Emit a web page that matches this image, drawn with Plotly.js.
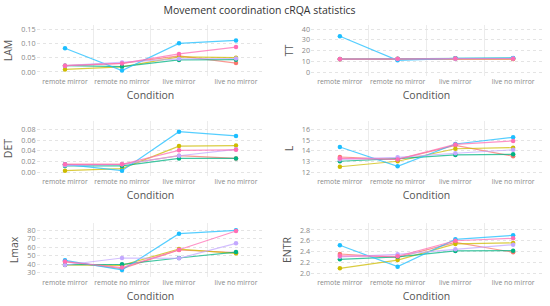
<!DOCTYPE html>
<html>
<head>
<meta charset="utf-8">
<script src="https://cdn.plot.ly/plotly-3.0.1.min.js"></script>
<style>html,body{margin:0;padding:0;background:#fff;}#chart{width:550px;height:306px;}</style>
</head>
<body>
<div id="chart"></div>
<script>
// ---- data ----
const conditions = ["remote mirror", "remote no mirror", "live mirror", "live no mirror"];
const seriesNames = ["Dyad 1", "Dyad 2", "Dyad 3", "Dyad 4", "Dyad 5", "Dyad 6"];
const seriesColors = ["#F8766D", "#CDBB00", "#00B383", "#1CBEFF", "#C3A8FF", "#FF6EB4"];

// each metric: one row per series (same order as seriesNames)
const LAM = [
  [0.022, 0.030, 0.056, 0.031],
  [0.009, 0.018, 0.053, 0.050],
  [0.022, 0.019, 0.042, 0.043],
  [0.083, 0.005, 0.100, 0.110],
  [0.022, 0.033, 0.046, 0.047],
  [0.022, 0.030, 0.063, 0.087]
];
const TT = [
  [12.0, 12.2, 12.4, 12.1],
  [11.9, 12.0, 12.6, 12.2],
  [12.1, 12.3, 12.9, 12.9],
  [33.4, 10.9, 12.8, 13.1],
  [12.0, 12.2, 12.3, 12.6],
  [12.1, 12.3, 12.6, 12.4]
];
const DET = [
  [0.015, 0.015, 0.031, 0.026],
  [0.003, 0.007, 0.049, 0.050],
  [0.012, 0.012, 0.026, 0.026],
  [0.015, 0.003, 0.076, 0.068],
  [0.013, 0.015, 0.031, 0.043],
  [0.015, 0.015, 0.041, 0.042]
];
const Lval = [
  [13.43, 13.21, 14.52, 13.50],
  [12.52, 13.03, 14.20, 14.30],
  [13.03, 13.27, 13.62, 13.68],
  [14.36, 12.56, 14.64, 15.27],
  [13.20, 13.40, 13.78, 14.10],
  [13.30, 13.20, 14.60, 14.93]
];
const Lmax = [
  [42.9, 34.7, 56.6, 53.4],
  [39.0, 38.6, 57.7, 52.7],
  [39.4, 39.8, 47.2, 54.2],
  [44.5, 33.2, 75.7, 79.6],
  [39.0, 47.2, 46.8, 64.4],
  [43.0, 36.0, 56.9, 78.8]
];
const ENTR = [
  [2.353, 2.290, 2.571, 2.385],
  [2.087, 2.240, 2.540, 2.560],
  [2.254, 2.300, 2.410, 2.415],
  [2.515, 2.118, 2.626, 2.700],
  [2.300, 2.347, 2.440, 2.527],
  [2.320, 2.310, 2.600, 2.645]
];

// ---- panels ----
const panels = [
  {name: "LAM",  data: LAM,  range: [-0.014, 0.164], dtick: 0.05, fmt: ".2f"},
  {name: "TT",   data: TT,   range: [-3.74, 43.9],   dtick: 10,   fmt: "d"},
  {name: "DET",  data: DET,  range: [-0.0069, 0.0959], dtick: 0.02, fmt: ".2f"},
  {name: "L",    data: Lval, range: [11.654, 16.79], dtick: 1,    fmt: "d"},
  {name: "Lmax", data: Lmax, range: [24.96, 88.2],   dtick: 10,   fmt: "d"},
  {name: "ENTR", data: ENTR, range: [1.9256, 2.93],  dtick: 0.2,  fmt: ".1f"}
];

const W = 550, H = 306;
const colX = [[36.5, 264.5], [311, 542]];
const rowY = [[25, 76], [121, 176], [223, 277]];

function rgba(hex, a) {
  const n = parseInt(hex.slice(1), 16);
  return "rgba(" + ((n >> 16) & 255) + "," + ((n >> 8) & 255) + "," + (n & 255) + "," + a + ")";
}

const traces = [];
const layout = {
  width: W, height: H,
  margin: {l: 0, r: 0, t: 0, b: 0},
  paper_bgcolor: "#ffffff",
  plot_bgcolor: "#ffffff",
  showlegend: false,
  font: {family: "Open Sans, sans-serif", color: "#444"},
  title: {
    text: "Movement coordination cRQA statistics",
    x: 0.472, xanchor: "center", y: 0.967, yanchor: "middle",
    font: {size: 10.5, color: "#333"}
  }
};

panels.forEach((p, i) => {
  const col = i % 2, row = Math.floor(i / 2);
  const k = i + 1;
  const xa = "xaxis" + (k === 1 ? "" : k), ya = "yaxis" + (k === 1 ? "" : k);
  const xr = "x" + (k === 1 ? "" : k), yr = "y" + (k === 1 ? "" : k);
  p.data.forEach((vals, s) => {
    traces.push({
      type: "scatter", mode: "lines+markers",
      x: conditions, y: vals, name: seriesNames[s],
      xaxis: xr, yaxis: yr,
      line: {color: rgba(seriesColors[s], 0.75), width: 1.2},
      marker: {color: seriesColors[s], size: 4.5},
      hoverinfo: "skip"
    });
  });
  layout[xa] = {
    domain: [colX[col][0] / W, colX[col][1] / W],
    anchor: yr,
    type: "category",
    categoryorder: "array", categoryarray: conditions,
    range: [-0.5, 3.5],
    tickson: "boundaries",
    tickangle: 0,
    ticks: "", showline: false, zeroline: false,
    showgrid: true, gridcolor: "#ececec", gridwidth: 1,
    tickfont: {size: 6.8, color: "#888"},
    title: {text: "Condition", font: {size: 10.5, color: "#555"}, standoff: 6},
    automargin: false
  };
  layout[ya] = {
    domain: [1 - rowY[row][1] / H, 1 - rowY[row][0] / H],
    anchor: xr,
    range: p.range,
    dtick: p.dtick, tick0: 0, tickformat: p.fmt,
    ticks: "", showline: false, zeroline: false,
    showgrid: true, gridcolor: "#e4e4e4", griddash: "dot", gridwidth: 1,
    tickfont: {size: 7.2, color: "#888"},
    title: {text: p.name, font: {size: 10.5, color: "#555"}, standoff: 6},
    automargin: false
  };
});

Plotly.newPlot("chart", traces, layout, {displayModeBar: false, staticPlot: true});
</script>
</body>
</html>
